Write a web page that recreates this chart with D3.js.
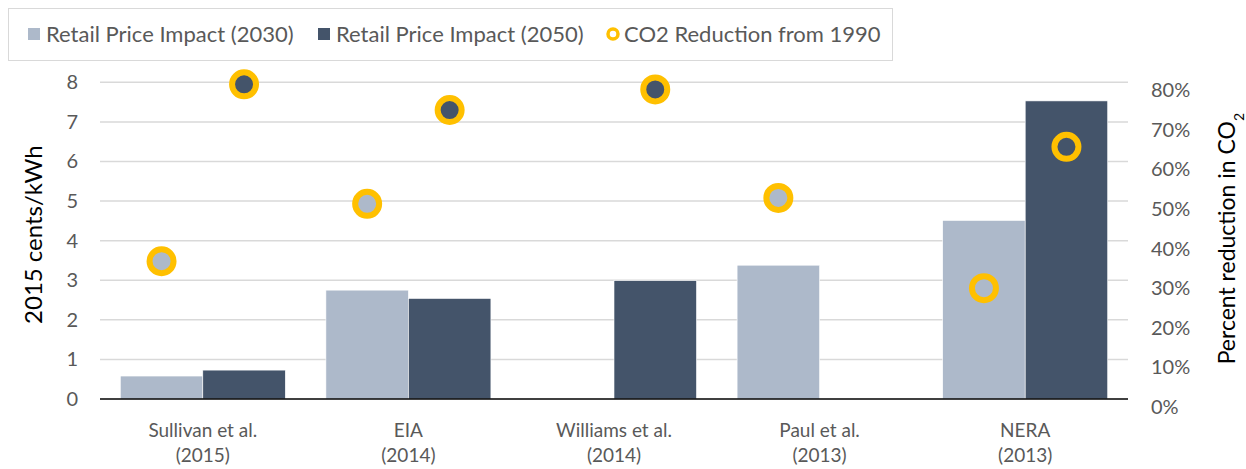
<!DOCTYPE html>
<html>
<head>
<meta charset="utf-8">
<script src="https://cdn.jsdelivr.net/npm/d3@7"></script>
<style>
  body { margin: 0; background: #fff; }
  svg text { font-family: Lato, 'Open Sans', sans-serif; }
</style>
</head>
<body>
<div id="chart"></div>
<script>
// Data
const studies = ['Sullivan et al.|(2015)', 'EIA|(2014)', 'Williams et al.|(2014)', 'Paul et al.|(2013)', 'NERA|(2013)'];
const price2030 = [0.58, 2.75, null, 3.38, 4.51];
const price2050 = [0.73, 2.54, 2.99, null, 7.53];
const co2_2030 = [0.348, 0.493, null, 0.508, 0.28];
const co2_2050 = [0.795, 0.73, 0.782, null, 0.637];
const leftTicks = [0, 1, 2, 3, 4, 5, 6, 7, 8];
const rightTicks = [0, 0.1, 0.2, 0.3, 0.4, 0.5, 0.6, 0.7, 0.8];
const seriesNames = ['Retail Price Impact (2030)', 'Retail Price Impact (2050)', 'CO2 Reduction from 1990'];

const W = 1246, H = 469;
const plot = { left: 100, right: 1128, top: 82.3, bottom: 399 };
const colors = { light: '#adb9ca', dark: '#44546a', ring: '#ffc000', grid: '#d9d9d9', text: '#595959' };

const svg = d3.select('#chart').append('svg')
    .attr('width', W).attr('height', H);

// Scales
const x0 = d3.scaleBand().domain(studies).range([plot.left, plot.right]).padding(0);
const x1 = d3.scaleBand().domain(['2030', '2050']).range([0, x0.bandwidth()]).paddingInner(0).paddingOuter(0.246);
const yL = d3.scaleLinear().domain([0, 8]).range([plot.bottom, plot.top]);
const yR = d3.scaleLinear().domain([0, 0.8]).range([plot.bottom, plot.top]);

// Gridlines
svg.append('g').selectAll('line')
    .data(leftTicks.filter(d => d > 0))
    .join('line')
    .attr('x1', plot.left).attr('x2', plot.right)
    .attr('y1', d => yL(d)).attr('y2', d => yL(d))
    .attr('stroke', colors.grid).attr('stroke-width', 1.5);

// Left axis
const leftAxis = svg.append('g')
    .attr('transform', `translate(${plot.left},0)`)
    .call(d3.axisLeft(yL).tickValues(leftTicks).tickSize(0).tickPadding(22).tickFormat(d3.format('d')));
leftAxis.select('.domain').remove();
leftAxis.selectAll('text')
    .attr('fill', colors.text).style('font-size', '20px');

// Right axis
const rightAxis = svg.append('g')
    .attr('transform', `translate(${plot.right},0)`)
    .call(d3.axisRight(yR).tickValues(rightTicks).tickSize(0).tickPadding(23).tickFormat(d3.format('.0%')));
rightAxis.select('.domain').remove();
rightAxis.selectAll('text')
    .attr('fill', colors.text).style('font-size', '20px')
    .attr('dy', '0.72em');

// Bars
const groups = svg.append('g').selectAll('g')
    .data(studies)
    .join('g')
    .attr('transform', d => `translate(${x0(d)},0)`);

groups.each(function(d, i) {
    const g = d3.select(this);
    const vals = [
        { key: '2030', v: price2030[i], c: colors.light },
        { key: '2050', v: price2050[i], c: colors.dark }
    ].filter(e => e.v != null);
    g.selectAll('rect')
        .data(vals)
        .join('rect')
        .attr('x', e => x1(e.key))
        .attr('width', x1.bandwidth())
        .attr('y', e => yL(e.v))
        .attr('height', e => yL(0) - yL(e.v))
        .attr('fill', e => e.c)
        .attr('stroke', '#fff').attr('stroke-width', 0.6);
});

// Baseline
svg.append('line')
    .attr('x1', plot.left).attr('x2', plot.right)
    .attr('y1', yL(0)).attr('y2', yL(0))
    .attr('stroke', '#000').attr('stroke-width', 1.5);

// CO2 markers
const points = [];
studies.forEach((s, i) => {
    if (co2_2030[i] != null) points.push({ s, key: '2030', v: co2_2030[i], c: colors.light });
    if (co2_2050[i] != null) points.push({ s, key: '2050', v: co2_2050[i], c: colors.dark });
});
svg.append('g').selectAll('circle')
    .data(points)
    .join('circle')
    .attr('cx', d => x0(d.s) + x1(d.key) + x1.bandwidth() / 2)
    .attr('cy', d => yR(d.v))
    .attr('r', 12)
    .attr('fill', d => d.c)
    .attr('stroke', colors.ring)
    .attr('stroke-width', 6);

// Category labels
const catLabels = svg.append('g').selectAll('text')
    .data(studies)
    .join('text')
    .attr('x', d => x0(d) + x0.bandwidth() / 2)
    .attr('y', 437)
    .attr('text-anchor', 'middle')
    .attr('fill', colors.text)
    .style('font-size', '19px');
catLabels.each(function(d) {
    const parts = d.split('|');
    d3.select(this).append('tspan').attr('x', x0(d) + x0.bandwidth() / 2).text(parts[0]);
    d3.select(this).append('tspan').attr('x', x0(d) + x0.bandwidth() / 2).attr('dy', 25).text(parts[1]);
});

// Axis titles
svg.append('text')
    .attr('transform', `translate(42,${(plot.top + plot.bottom) / 2 - 6}) rotate(-90)`)
    .attr('text-anchor', 'middle')
    .attr('fill', '#000')
    .style('font-size', '24px')
    .text('2015 cents/kWh');

const rt = svg.append('text')
    .attr('transform', `translate(1235,${(plot.top + plot.bottom) / 2 - 2}) rotate(-90)`)
    .attr('text-anchor', 'middle')
    .attr('fill', '#000')
    .style('font-size', '23px');
rt.append('tspan').text('Percent reduction in CO');
rt.append('tspan').attr('baseline-shift', 'sub').style('font-size', '14px').text('2');

// Legend
const legend = svg.append('g');
legend.append('rect')
    .attr('x', 8.5).attr('y', 8.5).attr('width', 884).attr('height', 52)
    .attr('fill', '#fff').attr('stroke', colors.grid).attr('stroke-width', 1);

const legendItems = [
    { name: seriesNames[0], type: 'rect', c: colors.light, x: 28 },
    { name: seriesNames[1], type: 'rect', c: colors.dark, x: 318 },
    { name: seriesNames[2], type: 'circle', c: colors.ring, x: 606 }
];
legendItems.forEach(it => {
    if (it.type === 'rect') {
        legend.append('rect').attr('x', it.x).attr('y', 28).attr('width', 12).attr('height', 12).attr('fill', it.c);
    } else {
        legend.append('circle').attr('cx', it.x + 7).attr('cy', 34).attr('r', 5).attr('fill', '#fff')
            .attr('stroke', it.c).attr('stroke-width', 3.5);
    }
    legend.append('text')
        .attr('x', it.x + 18).attr('y', 34).attr('dy', '0.35em')
        .attr('fill', colors.text).style('font-size', '22px')
        .text(it.name);
});
</script>
</body>
</html>
